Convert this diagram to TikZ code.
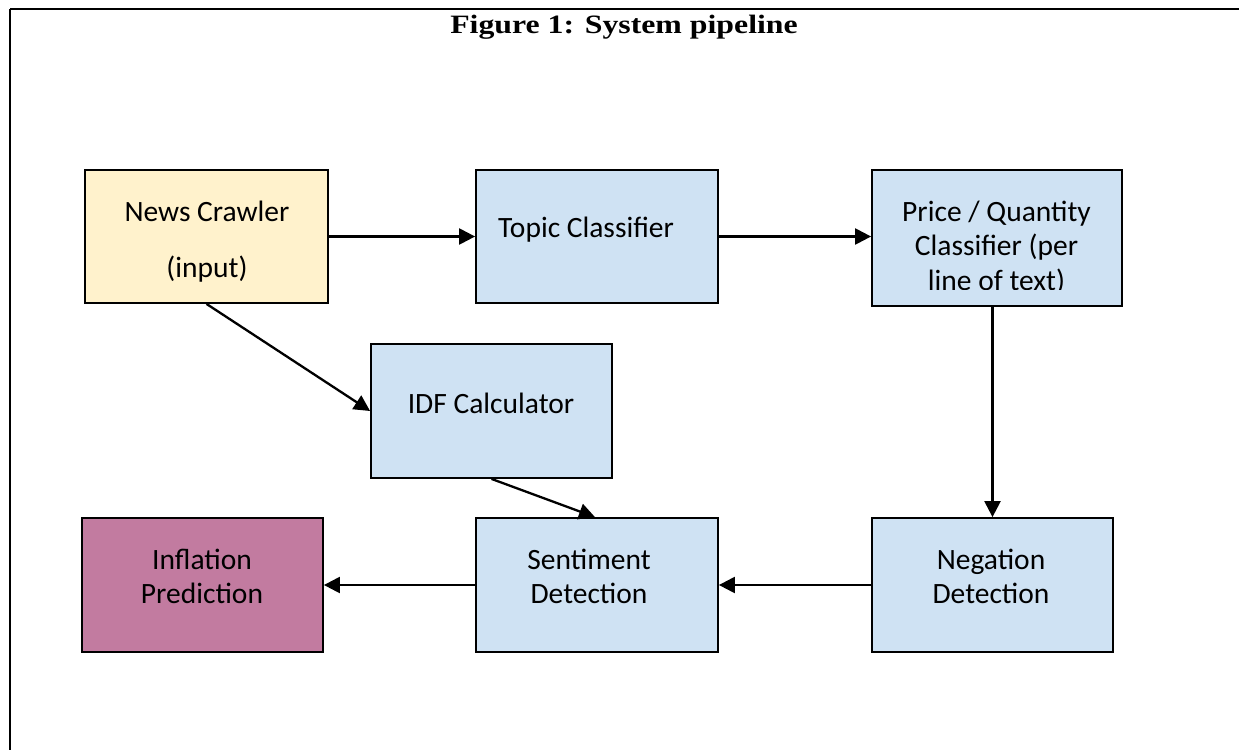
\documentclass[tikz,border=0pt]{standalone}
\usepackage{fontspec}
\setmainfont{Carlito}
\newfontfamily\titlefont[FakeStretch=1.2]{Liberation Serif}
\usetikzlibrary{arrows.meta,calc}
\definecolor{boxyellow}{HTML}{FFF2CC}
\definecolor{boxblue}{HTML}{CFE2F3}
\definecolor{boxmauve}{HTML}{C27BA0}
\tikzset{
  blk/.style={draw=black, line width=1.8pt, inner sep=0pt},
  txt/.style={inner sep=0pt, align=center, font=\fontsize{29.5}{34.5}\selectfont, execute at begin node=\strut},
  conn/.style={line width=2.3pt, -{Triangle[length=16pt,width=16pt]}},
  frame/.style={line width=2.6pt}
}
\begin{document}
\begin{tikzpicture}[x=1pt,y=-1pt]
\useasboundingbox (0,0) rectangle (1239,750);
\draw[frame] (10,9) -- (1239,9);
\draw[frame] (10,9) -- (10,750);
\node[anchor=base, font=\titlefont\bfseries\fontsize{26.5}{31}\selectfont, inner sep=0pt] (title) at (624,33.5) {Figure 1: System pipeline};
% boxes
\node[blk, fill=boxyellow, minimum width=243pt, minimum height=133pt] (crawler) at (206.5,236.5) {};
\node[blk, fill=boxblue, minimum width=242pt, minimum height=133pt] (topic) at (597,236.5) {};
\node[blk, fill=boxblue, minimum width=250pt, minimum height=136pt] (price) at (997,238) {};
\node[blk, fill=boxblue, minimum width=241pt, minimum height=134pt] (idf) at (491.5,411) {};
\node[blk, fill=boxmauve, minimum width=241pt, minimum height=134pt] (infl) at (202.5,585) {};
\node[blk, fill=boxblue, minimum width=242pt, minimum height=134pt] (sent) at (597,585) {};
\node[blk, fill=boxblue, minimum width=241pt, minimum height=134pt] (neg) at (992.5,585) {};
% texts
\node[txt, anchor=north] (crawlerT) at (207,200.5) {News Crawler\\[22pt](input)};
\node[txt, anchor=base west, execute at begin node={}] (topicT) at (498,237) {Topic Classifier};
\begin{scope}
\clip (price.north west) rectangle (price.east |- 0,289);
\node[txt, anchor=north] (priceT) at (996.5,200.5) {Price / Quantity\\Classifier (per\\line of text)};
\end{scope}
\node[txt, anchor=base, execute at begin node={}] (idfT) at (491,413) {IDF Calculator};
\node[txt, anchor=north] (inflT) at (202,548.5) {Inflation\\Prediction};
\node[txt, anchor=north] (sentT) at (589,548.5) {Sentiment\\Detection};
\node[txt, anchor=north] (negT) at (991,548.5) {Negation\\Detection};
% connectors
\draw[conn] (crawler.east) -- (topic.west);
\draw[conn] (topic.east) -- (topic.east -| price.west);
\draw[conn] (neg.north |- price.south) -- (neg.north);
\draw[conn] (neg.west) -- (sent.east);
\draw[conn] (sent.west) -- (infl.east);
\draw[conn] (crawler.south) -- (idf.west);
\draw[conn] (idf.south) -- ([xshift=-2pt]sent.north);
\end{tikzpicture}
\end{document}
